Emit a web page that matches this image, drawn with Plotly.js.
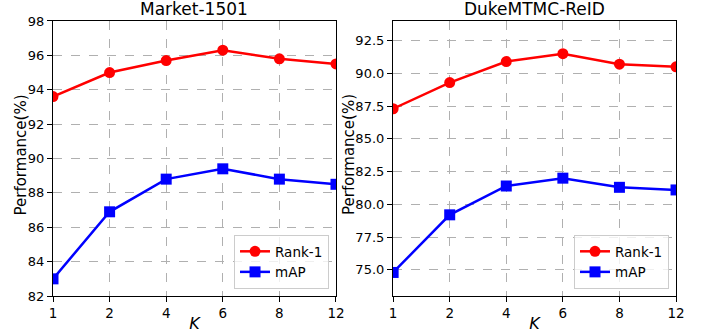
<!DOCTYPE html>
<html><head><meta charset="utf-8">
<script src="https://cdn.plot.ly/plotly-3.0.1.min.js"></script>
<style>body{margin:0;padding:0;background:#fff}#c{width:702px;height:333px}</style>
</head><body><div id="c"></div>
<script>
const kLabels = ['1','2','4','6','8','12'];
const marketRank1 = [93.6, 95.0, 95.7, 96.3, 95.8, 95.5];
const marketMAP = [83.0, 86.9, 88.8, 89.4, 88.8, 88.5];
const dukeRank1 = [87.3, 89.3, 90.9, 91.5, 90.7, 90.5];
const dukeMAP = [74.8, 79.2, 81.4, 82.0, 81.3, 81.1];
const titles = ['Market-1501', 'DukeMTMC-ReID'];
const yTitle = 'Performance(%)';

const FONT = 'DejaVu Sans, sans-serif';
function tr(x, y, name, color, sym, xa, ya, leg){
  return {x:x, y:y, name:name, type:'scatter', mode:'lines+markers', xaxis:xa, yaxis:ya, legend:leg,
    line:{color:color, width:2.5}, marker:{color:color, symbol:sym, size:11}};
}
const data = [
  tr(kLabels, marketRank1, 'Rank-1', '#ff0000', 'circle', 'x', 'y', 'legend'),
  tr(kLabels, marketMAP, 'mAP', '#0000ff', 'square', 'x', 'y', 'legend'),
  tr(kLabels, dukeRank1, 'Rank-1', '#ff0000', 'circle', 'x2', 'y2', 'legend2'),
  tr(kLabels, dukeMAP, 'mAP', '#0000ff', 'square', 'x2', 'y2', 'legend2')
];
function xax(dom, anchor){
  return {domain:dom, anchor:anchor, type:'category', range:[0,5], showline:true, mirror:true, linecolor:'#000', linewidth:1.2,
    ticks:'outside', ticklen:5, tickcolor:'#000', showgrid:true, gridcolor:'#b0b0b0', griddash:'dash', gridwidth:1,
    tickfont:{family:FONT, size:13.5, color:'#000'}, zeroline:false,
    title:{text:'<i>K</i>', font:{family:FONT, size:16, color:'#000'}, standoff:3}};
}
function yax(dom, anchor, range, dtick, fmt){
  return {domain:dom, anchor:anchor, range:range, dtick:dtick, tick0:0, tickformat:fmt, showline:true, mirror:true, linecolor:'#000', linewidth:1.2,
    ticks:'outside', ticklen:5, tickcolor:'#000', showgrid:true, gridcolor:'#b0b0b0', griddash:'dash', gridwidth:1,
    tickfont:{family:FONT, size:13, color:'#000'}, zeroline:false};
}
function leg(x, y){
  return {x:x, y:y, xanchor:'right', yanchor:'bottom', xref:'paper', yref:'paper', bgcolor:'rgba(255,255,255,0.8)', bordercolor:'#cccccc', borderwidth:1,
    font:{family:FONT, size:13.5, color:'#000'}, itemwidth:30, tracegroupgap:0};
}
const ann = titles.map((t,i)=>({text:t, xref:'paper', yref:'paper', x: i===0 ? 0.277 : 0.7615, y:0.937, yanchor:'bottom', xanchor:'center', showarrow:false,
    font:{family:FONT, size:17, color:'#000'}}));
[20.5/702, 349/702].forEach(x=>ann.push({text:yTitle, xref:'paper', yref:'paper', x:x, y:1-155/333, xanchor:'center', yanchor:'middle',
    textangle:-90, showarrow:false, font:{family:FONT, size:15, color:'#000'}}));
const layout = {
  width:702, height:333, margin:{l:0,r:0,t:0,b:0}, paper_bgcolor:'#fff', plot_bgcolor:'#fff', showlegend:true,
  xaxis: xax([0.0755, 0.4786], 'y'),
  yaxis: yax([0.111, 0.937], 'x', [82, 98], 2, 'd'),
  xaxis2: xax([0.56, 0.963], 'y2'),
  yaxis2: yax([0.111, 0.937], 'x2', [73, 94], 2.5, '.1f'),
  legend: leg(0.4687, 0.132),
  legend2: leg(0.953, 0.132),
  annotations: ann
};
Plotly.newPlot('c', data, layout, {staticPlot:true});
</script></body></html>
